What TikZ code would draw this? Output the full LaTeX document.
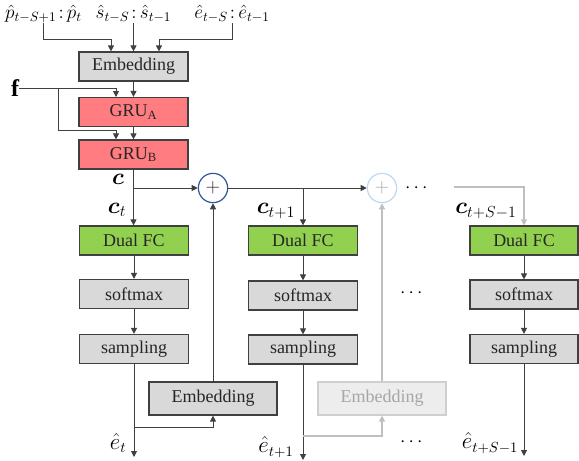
\documentclass[tikz,border=0pt]{standalone}
\usepackage{fontspec}
\setmainfont{Liberation Serif}
\usepackage{amsmath}
\usepackage{bm}
\usetikzlibrary{arrows.meta,calc}
\definecolor{bordergray}{HTML}{404040}
\definecolor{boxgray}{HTML}{D9D9D9}
\definecolor{grured}{HTML}{FF7C80}
\definecolor{fcgreen}{HTML}{92D050}
\definecolor{darkblue}{HTML}{2F5597}
\definecolor{lightblue}{HTML}{BDD7EE}
\definecolor{lightline}{HTML}{BFBFBF}
\definecolor{faintfill}{HTML}{EDEDED}
\definecolor{faintborder}{HTML}{CFCFCF}
\definecolor{fainttext}{HTML}{A6A6A6}
\definecolor{textgray}{HTML}{262626}
\begin{document}
\begin{tikzpicture}[x=0.75pt,y=-0.75pt,
  every node/.style={font=\rmfamily\fontsize{13.5}{15}\selectfont},
  blk/.style={draw=bordergray,line width=0.9pt,minimum width=81.75pt,minimum height=21.75pt,inner sep=0pt,text=textgray},
  graybox/.style={blk,fill=boxgray},
  redbox/.style={blk,fill=grured},
  greenbox/.style={blk,fill=fcgreen},
  embbox/.style={graybox,minimum width=96pt,minimum height=24.75pt},
  faintbox/.style={draw=faintborder,line width=0.9pt,fill=faintfill,text=fainttext,minimum width=96pt,minimum height=24.75pt,inner sep=0pt},
  arr/.style={draw=bordergray,line width=0.75pt,-{Triangle[length=4.5pt,width=4.5pt]}},
  garr/.style={draw=lightline,line width=0.9pt,-{Triangle[length=4.5pt,width=4.5pt]}},
  plusA/.style={circle,draw=darkblue,line width=0.9pt,minimum size=22pt,inner sep=0pt,text=textgray},
  plusB/.style={circle,draw=lightblue,line width=0.9pt,minimum size=22pt,inner sep=0pt,text=fainttext},
  clab/.style={font=\fontsize{18}{20}\selectfont,inner sep=0pt},
  elab/.style={font=\fontsize{16}{18}\selectfont,inner sep=0pt},
  tlab/.style={font=\fontsize{14}{16}\selectfont,inner sep=0pt}
]
\useasboundingbox (0,0) rectangle (579,461);

% top labels
\node[tlab] (lab1) at (43.5,14) {$\hat{p}_{t-S+1}\mkern2mu{:}\,\hat{p}_t$};
\node[tlab] (lab2) at (133.5,14) {$\hat{s}_{t-S}\mkern2mu{:}\,\hat{s}_{t-1}$};
\node[tlab] (lab3) at (232,14) {$\hat{e}_{t-S}\mkern2mu{:}\,\hat{e}_{t-1}$};

% column 1
\node[graybox] (emb1) at (133.5,66.5) {Embedding};
\node[redbox] (gruA) at (133.5,112) {GRU\textsubscript{A}};
\node[redbox] (gruB) at (133.5,154.5) {GRU\textsubscript{B}};
\node[greenbox] (fc1) at (134,240.5) {Dual FC};
\node[graybox] (sm1) at (134,294) {softmax};
\node[graybox] (sp1) at (134,349) {sampling};
\node[embbox] (emb2) at (213,398.5) {Embedding};

% column 2
\node[greenbox] (fc2) at (303,240.5) {Dual FC};
\node[graybox] (sm2) at (303,295.5) {softmax};
\node[graybox] (sp2) at (303,349.5) {sampling};
\node[faintbox] (emb3) at (382,398.5) {Embedding};

% column 3
\node[greenbox,minimum width=81pt] (fc3) at (524,240.5) {Dual FC};
\node[graybox,minimum width=81pt] (sm3) at (524,294.5) {softmax};
\node[graybox,minimum width=81pt] (sp3) at (524,349) {sampling};

% adders
\node[plusA] (p1) at (213,188) {$+$};
\node[plusB] (p2) at (382,188) {$+$};

% labels
\node[font=\fontsize{18}{20}\selectfont,inner sep=0pt] (f) at (15,88) {$\mathbf{f}$};
\node[clab] (lc) at (118,179) {$\bm{c}$};
\node[clab] (lct) at (117,210) {$\bm{c}_t$};
\node[clab] (lct1) at (276,211) {$\bm{c}_{t+1}$};
\node[clab] (lctS) at (486,211) {$\bm{c}_{t+S-1}$};
\node[elab] (le1) at (118,443) {$\hat{e}_t$};
\node[elab] (le2) at (276,447) {$\hat{e}_{t+1}$};
\node[elab] (le3) at (490,443) {$\hat{e}_{t+S-1}$};
\node[inner sep=0pt] (d1) at (418,188) {$\cdots$};
\node[inner sep=0pt] (d2) at (413,293) {$\cdots$};
\node[inner sep=0pt] (d3) at (413,442) {$\cdots$};

% coordinates
\coordinate (t1) at (111,39);
\coordinate (t3) at (159,39);
\coordinate (fb) at (58,88);
\coordinate (fA) at (116,97);
\coordinate (fB) at (116,130);
\coordinate (g0) at (454,187);
\coordinate (e1) at (134,457);
\coordinate (b1) at (134,427);
\coordinate (e2) at (303,460);
\coordinate (b2) at (303,436);
\coordinate (e3) at (524,456);

% top inputs
\draw[arr] (lab1.south) |- (t1) -- (t1 |- emb1.north);
\draw[arr] (lab2.south) -- (lab2.south |- emb1.north);
\draw[arr] (lab3.south) |- (t3) -- (t3 |- emb1.north);

% f inputs
\draw[arr] (f.east) -| (fA);
\draw[arr] (fb) |- (fB) -- (fB |- gruB.north);

% column 1 flow
\draw[arr] (emb1) -- (emb1.south |- gruA.north);
\draw[arr] (gruA) -- (gruA.south |- gruB.north);
\draw[arr] (gruB.south) -- (gruB.south |- fc1.north);
\draw[arr] (gruB.south |- p1) -- (p1.west);
\draw[arr] (fc1) -- (sm1);
\draw[arr] (sm1) -- (sp1);
\draw[arr] (sp1) -- (e1);
\draw[arr] (b1) -| (emb2.south);
\draw[arr] (emb2) -- (p1);

% chain
\draw[arr] (p1) -- (p2);
\draw[arr] (p1 -| fc2) -- (fc2.north);
\draw[arr] (fc2) -- (sm2);
\draw[arr] (sm2) -- (sp2);
\draw[arr] (sp2) -- (e2);
\draw[garr] (b2) -| (emb3.south);
\draw[garr] (emb3) -- (p2);

% column 3
\draw[garr] (g0) -| (fc3.north);
\draw[arr] (fc3) -- (sm3);
\draw[arr] (sm3) -- (sp3);
\draw[arr] (sp3) -- (e3);
\end{tikzpicture}
\end{document}
